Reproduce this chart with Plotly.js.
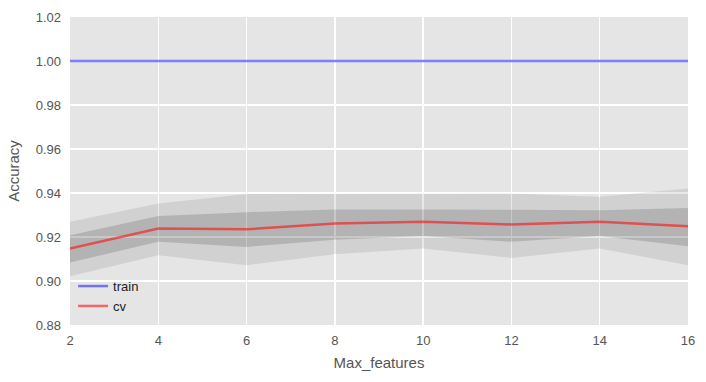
<!DOCTYPE html>
<html><head><meta charset="utf-8">
<script src="https://cdn.plot.ly/plotly-3.0.1.min.js"></script>
<style>body{margin:0;background:#fff}#c{width:706px;height:382px}</style>
</head><body><div id="c"></div>
<script>
var maxFeatures = [2, 4, 6, 8, 10, 12, 14, 16];
var trainAcc = [1.0, 1.0, 1.0, 1.0, 1.0, 0.99995, 1.0, 1.0];
var cvMean   = [0.9148, 0.9239, 0.9235, 0.9261, 0.9269, 0.9257, 0.9269, 0.9249];
var cvUpper1 = [0.9208, 0.9295, 0.9313, 0.9325, 0.9325, 0.9325, 0.9322, 0.9332];
var cvLower1 = [0.9084, 0.9178, 0.9155, 0.9188, 0.9204, 0.9178, 0.9204, 0.9158];
var cvUpper2 = [0.9269, 0.9352, 0.9395, 0.9395, 0.9398, 0.9398, 0.9383, 0.9420];
var cvLower2 = [0.9022, 0.9117, 0.9072, 0.9122, 0.9148, 0.9105, 0.9148, 0.9072];
var yTicks = [0.88, 0.90, 0.92, 0.94, 0.96, 0.98, 1.00, 1.02];
var xTicks = [2, 4, 6, 8, 10, 12, 14, 16];

function band(upper, lower, color) {
  return {
    x: maxFeatures.concat(maxFeatures.slice().reverse()),
    y: upper.concat(lower.slice().reverse()),
    type: 'scatter', mode: 'lines', fill: 'toself',
    fillcolor: color, line: {width: 0}, showlegend: false, hoverinfo: 'skip'
  };
}

var traces = [
  band(cvUpper2, cvLower2, 'rgba(0,0,0,0.085)'),
  band(cvUpper1, cvLower1, 'rgba(0,0,0,0.14)'),
  {x: maxFeatures, y: trainAcc, type: 'scatter', mode: 'lines', name: 'train',
   line: {color: 'rgba(0,0,255,0.5)', width: 2.5}},
  {x: maxFeatures, y: cvMean, type: 'scatter', mode: 'lines', name: 'cv',
   line: {color: 'rgba(255,0,0,0.55)', width: 2.5}}
];

var fam = 'Liberation Sans, Arial, sans-serif';
var layout = {
  width: 706, height: 382,
  margin: {l: 70, r: 18, t: 17, b: 57},
  paper_bgcolor: '#ffffff', plot_bgcolor: '#e5e5e5',
  font: {family: fam, size: 13, color: '#555555'},
  showlegend: true,
  legend: {x: 0.005, y: 0.175, xanchor: 'left', yanchor: 'top', bgcolor: 'rgba(0,0,0,0)',
           font: {family: fam, size: 13, color: '#222'}, tracegroupgap: 0},
  xaxis: {range: [2, 16], tickvals: xTicks, showgrid: true, gridcolor: '#ffffff', gridwidth: 1.3,
          zeroline: false, showline: false, ticks: '', ticklabelstandoff: 6,
          title: {text: 'Max_features', font: {size: 15, color: '#555555'}, standoff: 10}},
  yaxis: {range: [0.88, 1.02], tickvals: yTicks, tickformat: '.2f', showgrid: true,
          gridcolor: '#ffffff', gridwidth: 1.3, zeroline: false, showline: false, ticks: '',
          ticklabelstandoff: 8,
          title: {text: 'Accuracy', font: {size: 15, color: '#555555'}, standoff: 12}}
};
Plotly.newPlot('c', traces, layout, {displayModeBar: false, staticPlot: true});
</script></body></html>
